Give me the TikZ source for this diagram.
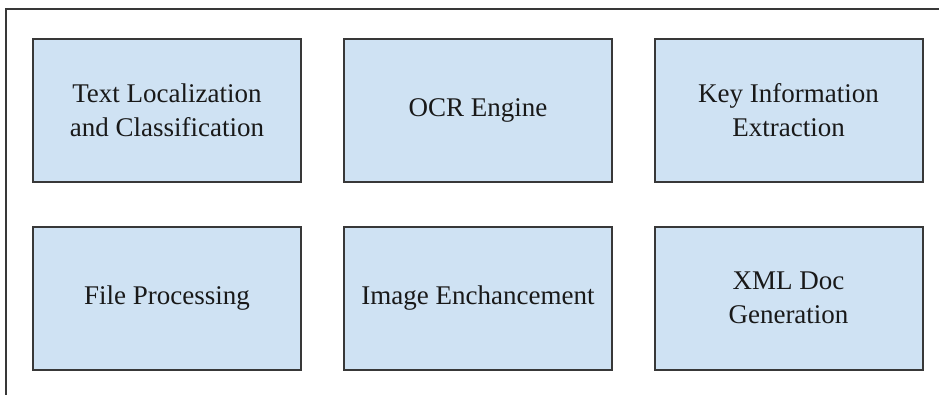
\documentclass[tikz,border=0pt]{standalone}
\usepackage{fontspec}
\setmainfont{Liberation Serif}
\definecolor{boxfill}{HTML}{CFE2F3}
\definecolor{boxline}{HTML}{383838}
\begin{document}
\begin{tikzpicture}[x=1pt,y=-1pt,
  module/.style={draw=boxline,line width=2pt,fill=boxfill,
    minimum width=268pt,minimum height=143pt,inner sep=0pt,
    align=center,font=\fontsize{27}{34}\selectfont,text=black!90}]
\useasboundingbox (0,0) rectangle (939,394);
% outer frame (only its left and top sides fall inside the page)
\draw[boxline,line width=2pt] (6,400) -- (6,9) -- (945,9);
% top row
\node[module] (loc) at (167,110.5) {Text Localization\\and Classification};
\node[module] (ocr) at (478,110.5) {OCR Engine};
\node[module] (kie) at (788.5,110.5) {Key Information\\Extraction};
% bottom row
\node[module] (file) at (167,298) {File Processing};
\node[module] (enh) at (478,298) {Image Enchancement};
\node[module] (xml) at (788.5,298) {XML Doc\\Generation};
\end{tikzpicture}
\end{document}
